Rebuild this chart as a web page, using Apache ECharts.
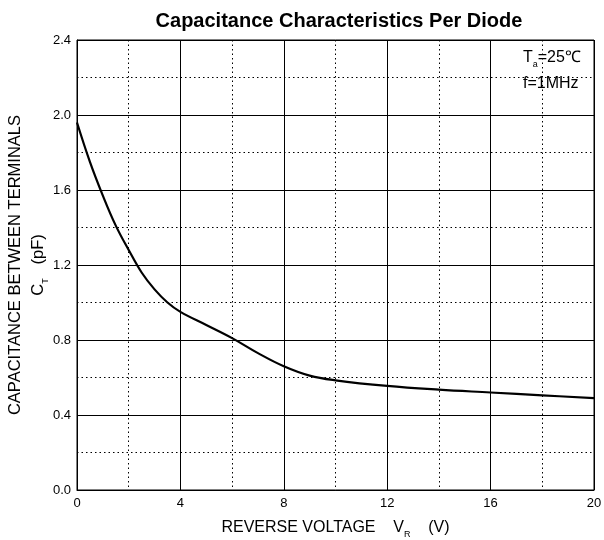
<!DOCTYPE html>
<html>
<head>
<meta charset="utf-8">
<script src="https://cdn.jsdelivr.net/npm/echarts@6/dist/echarts.min.js"></script>
<style>
  html,body{margin:0;padding:0;background:#fff;}
  #main{width:604px;height:540px;}
</style>
</head>
<body>
<div id="main"></div>
<script>
    // reverse voltage (V) and capacitance (pF)
    var voltage = [0, 0.5, 1, 1.5, 2, 2.5, 3, 3.5, 4, 5, 6, 7, 8, 9, 10, 12, 14, 16, 18, 20];
    var capacitance = [1.96, 1.75, 1.57, 1.41, 1.28, 1.16, 1.07, 1.0, 0.95, 0.88, 0.81, 0.73, 0.66, 0.61, 0.585, 0.555, 0.535, 0.52, 0.505, 0.49];
    var xTicks = [0, 4, 8, 12, 16, 20];
    var yTicks = ["0.0", "0.4", "0.8", "1.2", "1.6", "2.0", "2.4"];

    var font = "Liberation Sans, Arial, sans-serif";
    var pts = [];
    for (var i = 0; i < voltage.length; i++) {
        pts.push([voltage[i], capacitance[i]]);
    }

    var myChart = echarts.init(document.getElementById("main"));
    var option = {
        animation: false,
        title: {
            text: "Capacitance Characteristics Per Diode",
            left: 334,
            textAlign: "center",
            top: 6,
            textStyle: {fontFamily: font, fontSize: 20, fontWeight: "bold", color: "#000"}
        },
        grid: {
            left: 77, right: 10, top: 40, bottom: 50,
            outerBoundsMode: "none",
            show: true, borderColor: "#000", borderWidth: 1
        },
        xAxis: {
            type: "value",
            min: 0, max: 20, interval: 4,
            axisLine: {lineStyle: {color: "#000"}},
            axisTick: {show: false},
            axisLabel: {
                color: "#000", fontFamily: font, fontSize: 13, margin: 7,
                formatter: function (v) { return xTicks.indexOf(v) >= 0 ? String(v) : ""; }
            },
            splitLine: {lineStyle: {color: "#000", width: 1}},
            minorTick: {show: false, splitNumber: 2},
            minorSplitLine: {show: true, lineStyle: {color: "#000", type: [1.5, 3], width: 1}},
            name: "{t|REVERSE VOLTAGE    V}{s|R}{t|    (V)}",
            nameLocation: "middle",
            nameGap: 26,
            nameTextStyle: {
                rich: {
                    t: {fontFamily: font, fontSize: 16, color: "#000"},
                    s: {fontFamily: font, fontSize: 9, color: "#000", padding: [14, 0, 0, 0]}
                }
            }
        },
        yAxis: {
            type: "value",
            min: 0, max: 2.4, interval: 0.4,
            axisLine: {lineStyle: {color: "#000"}},
            axisTick: {show: false},
            axisLabel: {
                color: "#000", fontFamily: font, fontSize: 13, margin: 6,
                formatter: function (v) { return yTicks[Math.round(v / 0.4)]; }
            },
            splitLine: {lineStyle: {color: "#000", width: 1}},
            minorTick: {show: false, splitNumber: 2},
            minorSplitLine: {show: true, lineStyle: {color: "#000", type: [1.5, 3], width: 1}},
            name: "{t|CAPACITANCE BETWEEN TERMINALS}\n{t|C}{s|T}{t|   (pF)}",
            nameLocation: "middle",
            nameRotate: 90,
            nameGap: 27,
            nameMoveOverlap: false,
            nameTextStyle: {
                lineHeight: 23,
                rich: {
                    t: {fontFamily: font, fontSize: 16.5, color: "#000", lineHeight: 23},
                    s: {fontFamily: font, fontSize: 9, color: "#000", padding: [14, 0, 0, 0]}
                }
            }
        },
        graphic: [
            {
                type: "text", left: 523, top: 50,
                style: {
                    rich: {
                        t: {fontFamily: font, fontSize: 16, fill: "#000"},
                        s: {fontFamily: font, fontSize: 9, fill: "#000", padding: [14, 0, 0, 0]}
                    },
                    text: "{t|T}{s|a}{t|=25℃}"
                }
            },
            {
                type: "text", left: 523, top: 76,
                style: {text: "f=1MHz", fontFamily: font, fontSize: 16, fill: "#000"}
            }
        ],
        series: [{
            type: "line",
            data: pts,
            smooth: 0.4,
            showSymbol: false,
            lineStyle: {color: "#000", width: 2.2}
        }]
    };
    myChart.setOption(option);
</script>
</body>
</html>
